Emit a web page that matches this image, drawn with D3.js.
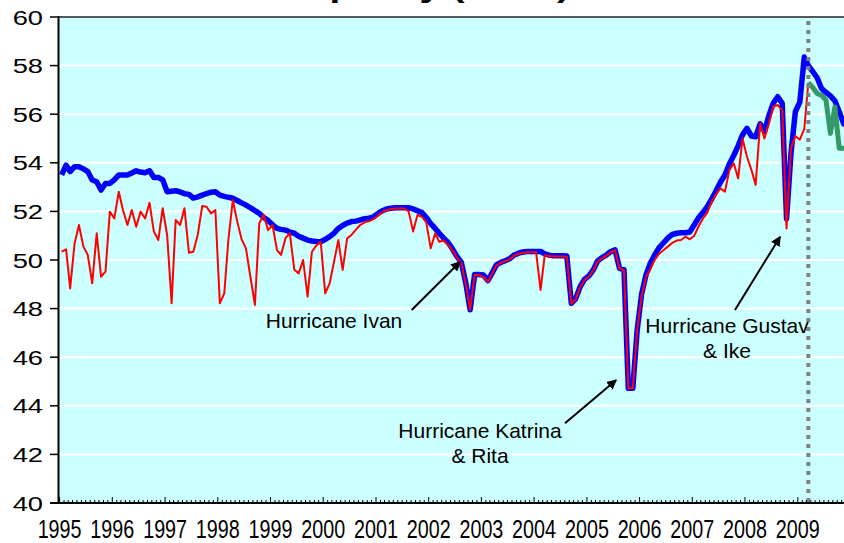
<!DOCTYPE html>
<html>
<head>
<meta charset="utf-8">
<script src="https://cdnjs.cloudflare.com/ajax/libs/d3/7.8.5/d3.min.js"></script>
<style>
  body { margin: 0; background: #fff; }
  svg { display: block; font-family: Arial, "Liberation Sans", sans-serif; }
</style>
</head>
<body>
<div id="chart"></div>
<script>
// monthly series, first value = Jan 1995
let startYear = 1995

// thick blue line
let blueValues = [
  53.5, 53.9, 53.64, 53.84, 53.84, 53.75, 53.64, 53.29, 53.22, 52.88, 53.15, 53.15,
  53.3, 53.5, 53.5, 53.5, 53.58, 53.67, 53.62, 53.59, 53.67, 53.4, 53.4, 53.3,
  52.81, 52.83, 52.85, 52.8, 52.73, 52.7, 52.55, 52.6, 52.67, 52.73, 52.79, 52.81,
  52.67, 52.62, 52.58, 52.54, 52.45, 52.35, 52.26, 52.15, 52.03, 51.92, 51.75, 51.63,
  51.45, 51.3, 51.26, 51.23, 51.15, 51.1, 50.98, 50.9, 50.82, 50.78, 50.76, 50.75,
  50.85, 50.96, 51.1, 51.3, 51.42, 51.52, 51.58, 51.6, 51.65, 51.7, 51.72, 51.78,
  51.92, 52.03, 52.1, 52.13, 52.15, 52.15, 52.15, 52.15, 52.1, 52.03, 51.95, 51.75,
  51.5, 51.3, 51.1, 50.9, 50.72, 50.45, 50.15, 49.9, 49.05, 47.95, 49.4, 49.4,
  49.38, 49.15, 49.45, 49.8, 49.9, 49.97, 50.05, 50.2, 50.28, 50.33, 50.35, 50.35,
  50.35, 50.35, 50.25, 50.2, 50.17, 50.17, 50.17, 50.16, 48.22, 48.4, 48.9, 49.2,
  49.35, 49.6, 49.95, 50.1, 50.2, 50.35, 50.42, 49.66, 49.6, 44.72, 44.72, 47.1,
  48.6, 49.4, 49.85, 50.2, 50.5, 50.7, 50.9, 51.05, 51.1, 51.12, 51.12, 51.15,
  51.45, 51.75, 51.95, 52.2, 52.5, 52.85, 53.2, 53.5, 53.95, 54.3, 54.7, 55.15,
  55.42, 55.1, 55.07, 55.6, 55.3, 55.95, 56.45, 56.72, 56.45, 51.7, 54.4, 56.1,
  56.5, 58.35, 58.0, 57.75, 57.5, 57.05, 56.9, 56.75, 56.55, 56.1, 55.6, 55.9
]

// thin red line (ends Mar 2009)
let redValues = [
  50.34, 50.44, 48.83, 50.69, 51.44, 50.55, 50.21, 49.04, 51.1, 49.31, 49.52, 51.99,
  51.71, 52.81, 52.06, 51.44, 52.06, 51.37, 51.99, 51.71, 52.35, 51.17, 50.82, 52.13,
  51.03, 48.22, 51.65, 51.44, 52.13, 50.3, 50.34, 51.03, 52.22, 52.19, 51.92, 52.06,
  48.22, 48.63, 50.82, 52.47, 51.6, 50.85, 50.48, 49.3, 48.15, 51.51, 51.85, 51.23,
  51.44, 50.41, 50.21, 50.9, 51.1, 49.6, 49.45, 50.0, 48.49, 50.34, 50.6, 50.75,
  48.63, 49.04, 49.9, 50.82, 49.59, 50.89, 51.03, 51.25, 51.45, 51.55, 51.6, 51.68,
  51.82, 51.98, 52.05, 52.1, 52.12, 52.12, 52.12, 52.0, 51.17, 51.85, 51.78, 51.55,
  50.48, 51.1, 50.75, 50.8, 50.62, 50.4, 50.1, 49.88, 49.0, 47.95, 49.38, 49.38,
  49.3, 49.1, 49.42, 49.78, 49.88, 49.95, 50.02, 50.18, 50.25, 50.3, 50.32, 50.32,
  50.32, 48.77, 50.2, 50.16, 50.14, 50.14, 50.14, 50.13, 48.2, 48.38, 48.88, 49.18,
  49.32, 49.58, 49.92, 50.07, 50.17, 50.32, 50.4, 49.64, 49.58, 44.72, 44.72, 47.1,
  48.5, 49.3, 49.6, 50.0, 50.25, 50.4, 50.55, 50.7, 50.8, 50.82, 50.96, 50.85,
  51.0, 51.4, 51.7, 51.95, 52.4, 52.7, 52.95, 52.81, 53.7, 53.98, 53.36, 55.0,
  54.25, 53.7, 53.09, 55.62, 55.0, 55.62, 56.31, 56.38, 56.17, 51.3, 54.6, 55.1,
  54.95, 55.4, 57.3
]

// green line from Mar 2009 on
let greenStart = 170
let greenValues = [57.3, 57.1, 56.85, 56.78, 56.58, 55.21, 56.3, 54.6, 54.6, 54.6]

let yTicks = [40, 42, 44, 46, 48, 50, 52, 54, 56, 58, 60]
let yearLabels = d3.range(1995, 2010)
let titleText = 'Capacity (mb/d)'

// annotation text lines + where the arrow points (month index, value)
let notes = [
  { lines: ['Hurricane Ivan'], tipMonth: 90.8, tipValue: 49.93 },
  { lines: ['Hurricane Katrina', '& Rita'], tipMonth: 126.3, tipValue: 45.06 },
  { lines: ['Hurricane Gustav', '& Ike'], tipMonth: 163.6, tipValue: 50.96 }
]

let monthDate = i => new Date(startYear, Math.floor(i), 15 + (i % 1) * 30)
let toPoints = (vals, offset) => vals.map((v, i) => ({ date: monthDate(i + offset), value: v }))

let W = 844, H = 543
let plotLeft = 59, plotTop = 17, plotBottom = 503

let svg = d3.select('#chart').append('svg').attr('width', W).attr('height', H)

let x = d3.scaleTime()
  .domain([new Date(1995, 0, 1), new Date(2009, 0, 1)])
  .range([59.6, 797.8])
let y = d3.scaleLinear().domain([40, 60]).range([plotBottom, plotTop])

// title, mostly cut off above the picture
svg.append('text')
  .attr('transform', 'translate(280,-3) scale(1.38,1)')
  .attr('font-size', 28).attr('font-weight', 'bold')
  .text(titleText)

// plot area
svg.append('rect')
  .attr('x', plotLeft).attr('y', plotTop)
  .attr('width', W - plotLeft).attr('height', plotBottom - plotTop)
  .attr('fill', '#CCFFFF')

svg.selectAll('.grid')
  .data(yTicks.filter(v => v > 40 && v < 60))
  .enter().append('line')
  .attr('class', 'grid')
  .attr('x1', plotLeft).attr('x2', W)
  .attr('y1', d => y(d)).attr('y2', d => y(d))
  .attr('stroke', '#fff').attr('stroke-width', 2)

svg.append('line')
  .attr('x1', plotLeft).attr('x2', W)
  .attr('y1', y(60)).attr('y2', y(60))
  .attr('stroke', '#222').attr('stroke-width', 1.5)

// series
let line = d3.line().x(d => x(d.date)).y(d => y(d.value))

svg.append('clipPath').attr('id', 'plotclip').append('rect')
  .attr('x', plotLeft).attr('y', 0).attr('width', W - plotLeft).attr('height', plotBottom)

let series = svg.append('g').attr('clip-path', 'url(#plotclip)')

series.append('path')
  .datum(toPoints(blueValues, 0))
  .attr('d', line)
  .attr('fill', 'none').attr('stroke', '#0000FF').attr('stroke-width', 5.5)
  .attr('stroke-linejoin', 'round')

series.append('path')
  .datum(toPoints(redValues, 0))
  .attr('d', line)
  .attr('fill', 'none').attr('stroke', '#FF0000').attr('stroke-width', 2)
  .attr('stroke-linejoin', 'round')

series.append('path')
  .datum(toPoints(greenValues, greenStart))
  .attr('d', line)
  .attr('fill', 'none').attr('stroke', '#339966').attr('stroke-width', 5)
  .attr('stroke-linejoin', 'round')

// forecast divider
let divX = x(monthDate(greenStart))
svg.append('line')
  .attr('x1', divX).attr('x2', divX)
  .attr('y1', 21).attr('y2', plotBottom)
  .attr('stroke', '#808080').attr('stroke-width', 4)
  .attr('stroke-dasharray', '4,5')

// y axis
svg.append('line')
  .attr('x1', plotLeft - 0.5).attr('x2', plotLeft - 0.5)
  .attr('y1', plotTop - 1).attr('y2', plotBottom)
  .attr('stroke', '#000').attr('stroke-width', 2)

svg.selectAll('.ytick')
  .data(yTicks).enter().append('line')
  .attr('class', 'ytick')
  .attr('x1', 50).attr('x2', plotLeft)
  .attr('y1', d => y(d)).attr('y2', d => y(d))
  .attr('stroke', '#000').attr('stroke-width', 1.5)

svg.selectAll('.ylab')
  .data(yTicks).enter().append('text')
  .attr('class', 'ylab')
  .attr('transform', d => `translate(43,${y(d) + 7.5}) scale(1.3,1)`)
  .attr('text-anchor', 'end')
  .attr('font-size', 21)
  .text(d => d)

// x axis
svg.append('line')
  .attr('x1', 50).attr('x2', W)
  .attr('y1', plotBottom).attr('y2', plotBottom)
  .attr('stroke', '#000').attr('stroke-width', 2)

let months = d3.timeMonth.range(new Date(1995, 0, 1), new Date(2010, 0, 1))
svg.selectAll('.xtick')
  .data(months).enter().append('line')
  .attr('class', 'xtick')
  .attr('x1', d => x(d)).attr('x2', d => x(d))
  .attr('y1', plotBottom).attr('y2', d => plotBottom - (d.getMonth() === 0 ? 6 : 3))
  .attr('stroke', '#000').attr('stroke-width', 1)

svg.selectAll('.xlab')
  .data(yearLabels).enter().append('text')
  .attr('class', 'xlab')
  .attr('transform', d => `translate(${x(new Date(d, 0, 1))},538) scale(0.79,1)`)
  .attr('text-anchor', 'middle')
  .attr('font-size', 25)
  .text(d => d)

// annotations
let noteText = [
  { x: 334, y: 328 },
  { x: 480, y: 438 },
  { x: 727, y: 333 }
]
let noteTails = [[411.7, 310], [565, 423.3], [735, 310]]

svg.append('defs').append('marker')
  .attr('id', 'arrowhead')
  .attr('viewBox', '0 0 10 10')
  .attr('refX', 9).attr('refY', 5)
  .attr('markerWidth', 5).attr('markerHeight', 5)
  .attr('orient', 'auto')
  .append('path').attr('d', 'M0,0L10,5L0,10z').attr('fill', '#000')

notes.forEach((n, k) => {
  let t = svg.append('text')
    .attr('x', noteText[k].x).attr('y', noteText[k].y)
    .attr('text-anchor', 'middle')
    .attr('font-size', 21)
  n.lines.forEach((s, j) => {
    t.append('tspan').attr('x', noteText[k].x).attr('dy', j === 0 ? 0 : 25).text(s)
  })
  svg.append('line')
    .attr('x1', noteTails[k][0]).attr('y1', noteTails[k][1])
    .attr('x2', x(monthDate(n.tipMonth))).attr('y2', y(n.tipValue))
    .attr('stroke', '#000').attr('stroke-width', 2)
    .attr('marker-end', 'url(#arrowhead)')
})
</script>
</body>
</html>
